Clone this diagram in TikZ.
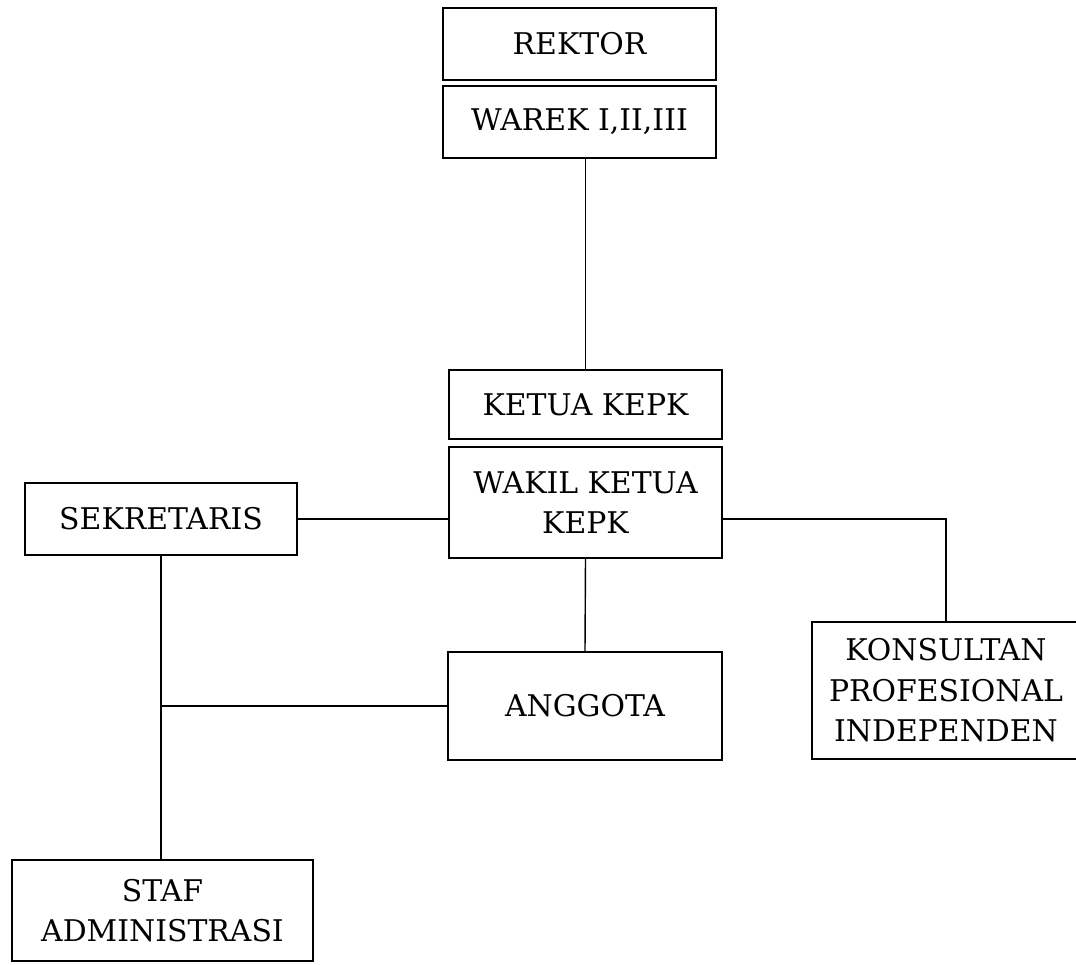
\documentclass[tikz,border=0pt]{standalone}
\usepackage{fontspec}
\setmainfont{DejaVu Serif}
\begin{document}
\begin{tikzpicture}[line width=0.8pt]
\tikzset{unit/.style={draw, rectangle, align=center, inner sep=2pt, font=\fontsize{17}{23}\selectfont}}
\useasboundingbox (0,0) rectangle (21.52,19.3);

% top of the structure
\node[unit, minimum height=1.44cm, minimum width=5.46cm] at (11.59, 18.42) (rektor) {REKTOR};
\node[unit, minimum height=1.44cm, minimum width=5.46cm] at (11.59, 16.86) (warek) {WAREK I,II,III};

% ketua and wakil ketua
\node[unit, minimum height=1.38cm, minimum width=5.46cm] at (11.71, 11.21) (ketua) {KETUA KEPK};
\node[unit, minimum height=2.22cm, minimum width=5.46cm] at (11.71,  9.25) (wakil) {WAKIL KETUA\\KEPK};
\draw (ketua.north |- warek.south) -- (ketua.north);

% sekretaris and staf
\node[unit, minimum height=1.44cm, minimum width=5.44cm] at ( 3.22,  8.92) (sekretaris) {SEKRETARIS};
\node[unit, minimum height=2.02cm, minimum width=6.02cm] at ( 3.25,  1.09) (staf) {STAF\\ADMINISTRASI};
\draw (sekretaris.east) -- (sekretaris.east -| wakil.west);
\draw (sekretaris.south) -- (sekretaris.south |- staf.north);

% anggota and konsultan
\node[unit, minimum height=2.16cm, minimum width=5.48cm] at (11.70,  5.18) (anggota) {ANGGOTA};
\node[unit, minimum height=2.74cm, minimum width=5.36cm] at (18.92,  5.49) (konsultan) {KONSULTAN\\PROFESIONAL\\INDEPENDEN};
\draw (wakil.south) -- (anggota.north);
\draw (wakil.east |- sekretaris.east) -| (konsultan.north);
\draw (anggota.west) -- (anggota.west -| sekretaris.south);

\end{tikzpicture}
\end{document}
